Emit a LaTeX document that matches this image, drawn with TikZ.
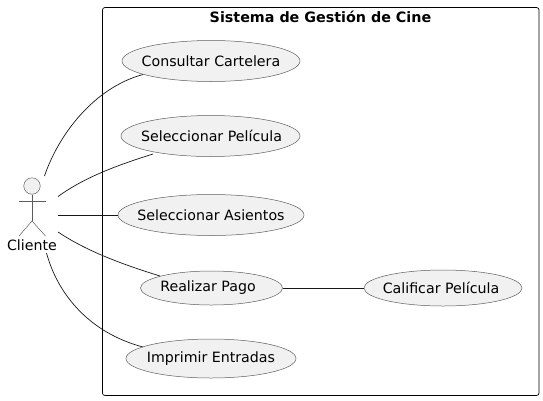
\documentclass[tikz,border=0pt]{standalone}
\usepackage{fontspec}
\setmainfont{DejaVu Sans}
\usepackage{xcolor}
\usetikzlibrary{shapes.geometric, positioning}
\definecolor{usecasefill}{HTML}{F1F1F1}
\definecolor{usecaseline}{HTML}{181818}
\newcommand{\uctext}[2][0pt]{\makebox[0pt]{\hspace*{#1}#2}}
\tikzset{
  usecase/.style={ellipse, draw=usecaseline!70, line width=0.5pt, fill=usecasefill, inner sep=0pt, font=\fontsize{14.2}{16}\selectfont},
  actorline/.style={draw=usecaseline!70, line width=0.5pt},
  link/.style={draw=usecaseline, line width=0.7pt},
}
\begin{document}
\begin{tikzpicture}[x=1pt, y=-1pt]
  \useasboundingbox (0,0) rectangle (543,400);
  % system frame
  \node[draw=black, line width=0.7pt, rounded corners=2.5pt, minimum width=436.5pt, minimum height=388pt, inner sep=0pt] (sistema) at (320.75,201.5) {};
  \node[font=\fontsize{14.3}{16}\selectfont\bfseries] (titulo) at (320.5,16.5) {Sistema de Gestión de Cine};

  % use cases
  \node[usecase, minimum width=178pt, minimum height=41pt] (cartelera) at (211,61) {\uctext{Consultar Cartelera}};
  \node[usecase, minimum width=179pt, minimum height=41pt] (pelicula) at (210.5,136) {\uctext[2pt]{Seleccionar Película}};
  \node[usecase, minimum width=186pt, minimum height=41pt] (asientos) at (211,215) {\uctext{Seleccionar Asientos}};
  \node[usecase, minimum width=142pt, minimum height=34pt] (pago) at (211.5,288) {\uctext[-7pt]{Realizar Pago}};
  \node[usecase, minimum width=170pt, minimum height=39pt] (entradas) at (211,358.5) {\uctext{Imprimir Entradas}};
  \node[usecase, minimum width=158pt, minimum height=36pt] (calificar) at (443,288) {\uctext[-4pt]{Calificar Película}};

  % actor
  \node[circle, draw=usecaseline!70, line width=0.5pt, fill=usecasefill, minimum size=16.5pt, inner sep=0pt] (cabeza) at (32,186) {};
  \coordinate (cadera) at (32,221);
  \draw[actorline] (cabeza.south) -- (cadera);
  \draw[actorline] (19,201.5) -- (45.5,201.5);
  \draw[actorline] (19,236) -- (cadera) -- (45.5,236);
  \node[font=\fontsize{14.2}{16}\selectfont] (cliente) at (32,245) {Cliente};

  % free ends at the actor
  \coordinate (c1) at (44.5,176);
  \coordinate (c2) at (58,196.5);
  \coordinate (c3) at (58,215);
  \coordinate (c4) at (58,232);
  \coordinate (c5) at (46.5,253);

  \draw[link] (c1) .. controls (58,136) and (93,88) .. (143,74.5);
  \draw[link] (c2) .. controls (85,177) and (118,165) .. (153,154);
  \draw[link] (c3) -- (asientos.west);
  \draw[link] (c4) .. controls (85,250) and (118,263) .. (160,276);
  \draw[link] (c5) .. controls (58,295) and (90,333) .. (143,347);
  \draw[link] (pago.east) -- (calificar.west);
\end{tikzpicture}
\end{document}
